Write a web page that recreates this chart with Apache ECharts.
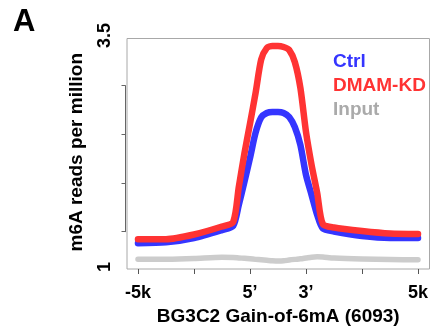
<!DOCTYPE html>
<html><head><meta charset="utf-8">
<script src="https://cdn.jsdelivr.net/npm/echarts@6/dist/echarts.min.js"></script>
<style>html,body{margin:0;padding:0;background:#fff}#c{width:442px;height:333px}</style>
</head><body><div id="c"></div>
<script>
// x positions: 0 = -5k, 2 = 5', 3 = 3', 5 = +5k
const positions = [0, 0.5, 1, 1.5, 1.7, 1.8, 1.9, 2.0, 2.1, 2.2, 2.3, 2.4, 2.5, 2.6, 2.7, 2.8, 2.9, 3.0, 3.1, 3.2, 3.3, 3.5, 4, 4.5, 5];
const ctrl   = [1.256, 1.266, 1.313, 1.399, 1.442, 1.669, 1.918, 2.177, 2.450, 2.615, 2.663, 2.674, 2.674, 2.663, 2.620, 2.512, 2.317, 1.993, 1.777, 1.561, 1.415, 1.383, 1.334, 1.313, 1.313];
const dmamKD = [1.300, 1.300, 1.351, 1.437, 1.486, 1.864, 2.224, 2.549, 2.880, 3.240, 3.365, 3.387, 3.387, 3.376, 3.344, 3.214, 2.933, 2.458, 2.101, 1.799, 1.464, 1.426, 1.388, 1.361, 1.356];
const input  = [1.083, 1.084, 1.092, 1.106, 1.103, 1.098, 1.093, 1.088, 1.082, 1.077, 1.072, 1.067, 1.064, 1.066, 1.075, 1.082, 1.088, 1.097, 1.106, 1.111, 1.108, 1.096, 1.085, 1.080, 1.077];

const seriesNames = ['Ctrl', 'DMAM-KD', 'Input'];
const xTickValues = [0, 1, 2, 3, 4, 5];
const xLabelValues = [0, 2, 3, 5];
const xLabels = ['-5k', '5\u2019', '3\u2019', '5k'];
const yTickValues = [1.38, 1.905, 2.43, 2.955];
const yLabelValues = [1, 3.5];
const yLabels = ['1', '3.5'];

const FONT = 'Liberation Sans, Arial, sans-serif';
const BLUE = '#3535ff', RED = '#ff3333', GREY = '#cccccc';

function pairs(ys) { return positions.map((x, i) => [x, ys[i]]); }

const chart = echarts.init(document.getElementById('c'), null, {renderer: 'canvas'});
chart.setOption({
  animation: false,
  backgroundColor: '#fff',
  title: {text: 'A', left: 8, top: 2, textStyle: {fontFamily: FONT, fontWeight: 'bold', fontSize: 31, color: '#000'}},
  legend: {
    orient: 'vertical', left: 323, top: 47, itemGap: 5, itemWidth: 0, itemHeight: 0, icon: 'rect',
    selectedMode: false,
    textStyle: {fontFamily: FONT, fontWeight: 'bold', fontSize: 19},
    data: [
      {name: seriesNames[0], textStyle: {color: BLUE}},
      {name: seriesNames[1], textStyle: {color: RED}},
      {name: seriesNames[2], textStyle: {color: '#aaaaaa'}}
    ]
  },
  grid: [
    {left: 127, right: 12.5, top: 35.5, bottom: 64, show: false},
    {left: 127, right: 12.5, top: 38.5, bottom: 64, show: true, borderColor: '#a8a8a8', borderWidth: 1, backgroundColor: 'transparent'},
    {left: 125.5, width: 10, top: 85.7, bottom: 101.3, show: false}
  ],
  xAxis: [
    {
      gridIndex: 0, type: 'value', min: -0.196, max: 5.205,
      axisLine: {show: false},
      axisTick: {show: true, customValues: xTickValues, length: 5, lineStyle: {color: '#555'}},
      axisLabel: {customValues: xLabelValues, formatter: v => xLabels[xLabelValues.indexOf(v)], margin: 15,
        fontFamily: FONT, fontWeight: 'bold', fontSize: 18, color: '#000'},
      splitLine: {show: false},
      name: 'BG3C2 Gain-of-6mA (6093)', nameLocation: 'middle', nameGap: 36,
      nameTextStyle: {fontFamily: FONT, fontWeight: 'bold', fontSize: 19, color: '#000'}
    },
    {gridIndex: 1, type: 'value', show: false},
    {gridIndex: 2, type: 'value', show: false}
  ],
  yAxis: [
    {
      gridIndex: 0, type: 'value', min: 0.978, max: 3.5,
      axisLine: {show: false}, axisTick: {show: false}, splitLine: {show: false},
      axisLabel: {customValues: yLabelValues, formatter: v => yLabels[yLabelValues.indexOf(v)], rotate: 90, margin: 13,
        fontFamily: FONT, fontWeight: 'bold', fontSize: 18, color: '#000'},
      name: 'm6A reads per million', nameLocation: 'middle', nameGap: 41,
      nameTextStyle: {fontFamily: FONT, fontWeight: 'bold', fontSize: 19, color: '#000'}
    },
    {gridIndex: 1, type: 'value', show: false},
    {
      gridIndex: 2, type: 'value', min: yTickValues[0], max: yTickValues[yTickValues.length - 1],
      axisLine: {show: true, lineStyle: {color: '#666'}},
      axisTick: {show: true, customValues: yTickValues, length: 4, lineStyle: {color: '#666'}},
      axisLabel: {show: false}, splitLine: {show: false}
    }
  ],
  series: [
    {name: seriesNames[2], type: 'line', xAxisIndex: 0, yAxisIndex: 0, data: pairs(input), showSymbol: false, smooth: 0.25,
      lineStyle: {color: GREY, width: 5.5, cap: 'round', join: 'round'}, itemStyle: {color: GREY}, z: 2},
    {name: seriesNames[0], type: 'line', xAxisIndex: 0, yAxisIndex: 0, data: pairs(ctrl), showSymbol: false, smooth: 0.25,
      lineStyle: {color: BLUE, width: 6.5, cap: 'round', join: 'round'}, itemStyle: {color: BLUE}, z: 3},
    {name: seriesNames[1], type: 'line', xAxisIndex: 0, yAxisIndex: 0, data: pairs(dmamKD), showSymbol: false, smooth: 0.25,
      lineStyle: {color: RED, width: 6.5, cap: 'round', join: 'round'}, itemStyle: {color: RED}, z: 4}
  ]
});
</script>
</body></html>
